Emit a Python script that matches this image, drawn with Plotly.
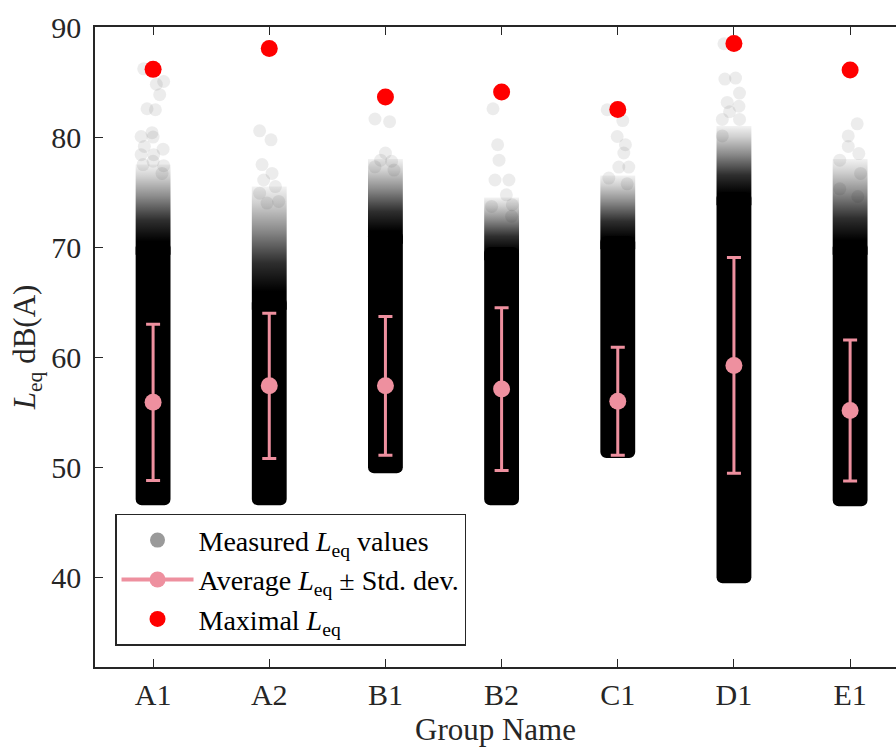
import plotly.graph_objects as go

groups = ["A1", "A2", "B1", "B2", "C1", "D1", "E1"]
mean_leq = [55.9, 57.4, 57.4, 57.1, 56.0, 59.25, 55.15]
std_leq = [7.1, 6.6, 6.3, 7.4, 4.9, 9.8, 6.4]
max_leq = [86.15, 88.05, 83.65, 84.1, 82.5, 88.5, 86.1]
min_leq = [47.1, 47.1, 50.0, 47.1, 51.4, 40.0, 47.0]
# level below which measured points merge into a solid band, and where the cloud thins out
dense_top = [70.5, 65.5, 71.5, 70.0, 71.0, 75.0, 70.5]
cloud_top = [77.5, 75.5, 78.0, 74.5, 76.5, 81.0, 78.0]

# individually visible (sparse) measured values above the dense cloud: value, jitter offset
sparse_vals = {
    "A1": [86.2, 85.05, 84.8, 83.85, 82.57, 82.48, 80.05, 80.4, 80.0, 78.9, 79.15, 78.4, 78.4, 77.4, 77.5, 76.7, 77.8],
    "A2": [80.57, 79.75, 77.5, 76.7, 76.1, 75.5, 74.9, 74.15, 74.0],
    "B1": [81.64, 81.4, 78.55, 77.8, 77.3, 77.9, 77.0],
    "B2": [82.57, 79.3, 77.9, 76.1, 76.1, 74.75, 73.85, 73.7, 72.8],
    "C1": [82.48, 81.5, 80.05, 79.3, 78.55, 77.27, 77.27, 76.27, 75.75],
    "D1": [88.48, 85.27, 85.36, 84.0, 83.15, 82.8, 81.6, 81.6, 82.3, 80.1],
    "E1": [81.2, 80.1, 79.15, 78.5, 77.9, 76.7, 75.3, 74.6],
}
sparse_jitter = {
    "A1": [-0.081, 0.091, 0.028, 0.057, -0.052, 0.02, -0.103, -0.009, 0.0, 0.086, -0.075, -0.103, 0.005, 0.091, -0.086, 0.077, 0.0],
    "A2": [-0.083, 0.015, -0.062, 0.024, -0.048, 0.053, -0.083, 0.081, -0.019],
    "B1": [-0.09, 0.036, 0.0, 0.053, -0.09, -0.041, 0.074],
    "B2": [-0.074, -0.034, -0.022, -0.057, 0.063, 0.041, 0.092, -0.086, 0.086],
    "C1": [-0.091, 0.043, -0.005, 0.066, 0.052, 0.095, 0.009, -0.077, 0.081],
    "D1": [-0.086, -0.078, 0.014, 0.048, -0.058, 0.043, -0.10, 0.048, -0.038, -0.10],
    "E1": [0.061, -0.016, -0.016, 0.075, -0.089, 0.09, -0.089, 0.066],
}

PINK = "#EE909F"
FONT = "Liberation Serif"
INK = "#262626"
half_w = 0.15
xpos = list(range(1, len(groups) + 1))
y_lo, y_hi = 31.85, 90.0
marker_r = 0.55  # radius of a point in dB units at this scale

fig = go.Figure()

# dense part of the measured cloud: solid band with rounded bottom
fig.add_trace(go.Bar(
    x=xpos,
    base=dense_top,
    y=[(m - marker_r) - d for m, d in zip(min_leq, dense_top)],
    width=2 * half_w,
    marker=dict(color="black", line=dict(width=0), cornerradius=6),
    showlegend=False, hoverinfo="skip",
))

# thinning part of the cloud: vertical fading fill (overlaps the band top)
for xc, d, c in zip(xpos, dense_top, cloud_top):
    lo = d - 1.2
    fig.add_trace(go.Scatter(
        x=[xc - half_w, xc + half_w, xc + half_w, xc - half_w, xc - half_w],
        y=[lo, lo, c, c, lo],
        mode="lines", line=dict(width=0), fill="toself",
        fillgradient=dict(type="vertical", colorscale=[
            [0.0, "rgba(0,0,0,1)"], [0.15, "rgba(0,0,0,1)"], [0.38, "rgba(0,0,0,0.82)"],
            [0.65, "rgba(0,0,0,0.45)"], [0.87, "rgba(0,0,0,0.18)"], [1.0, "rgba(0,0,0,0.05)"]]),
        showlegend=False, hoverinfo="skip",
    ))

# sparse individual points
sx, sy = [], []
for xc, g in zip(xpos, groups):
    for v, j in zip(sparse_vals[g], sparse_jitter[g]):
        sx.append(xc + j)
        sy.append(v)
fig.add_trace(go.Scatter(
    x=sx, y=sy, mode="markers",
    marker=dict(size=13, color="rgba(0,0,0,0.075)", line=dict(width=0)),
    showlegend=False, hoverinfo="skip",
))

# legend entries
fig.add_trace(go.Scatter(
    x=[None], y=[None], mode="markers",
    marker=dict(size=15, color="#9a9a9a"),
    name="Measured <i>L</i><sub>eq</sub> values",
))
fig.add_trace(go.Scatter(
    x=xpos, y=mean_leq, mode="markers",
    marker=dict(size=17, color=PINK),
    error_y=dict(type="data", array=std_leq, visible=True, color=PINK, thickness=3, width=7),
    showlegend=False,
))
fig.add_trace(go.Scatter(
    x=[None], y=[None], mode="lines+markers",
    line=dict(color=PINK, width=4), marker=dict(size=16, color=PINK),
    name="Average <i>L</i><sub>eq</sub> ± Std. dev.",
))
fig.add_trace(go.Scatter(
    x=xpos, y=max_leq, mode="markers",
    marker=dict(size=17, color="#FF0000"),
    name="Maximal <i>L</i><sub>eq</sub>",
))

fig.update_layout(
    width=896, height=747,
    margin=dict(l=95, r=0, t=27, b=80),
    plot_bgcolor="white", paper_bgcolor="white",
    font=dict(family=FONT, size=30, color=INK),
    barmode="overlay",
    showlegend=True,
    legend=dict(
        x=0.025, y=0.033, xanchor="left", yanchor="bottom",
        bgcolor="white", bordercolor=INK, borderwidth=1.5,
        font=dict(family=FONT, size=28, color="black"),
        itemwidth=72, tracegroupgap=0,
    ),
    xaxis=dict(
        range=[0.5, 7.395], tickmode="array", tickvals=xpos, ticktext=groups,
        ticks="inside", ticklen=8, tickwidth=1.2, tickcolor=INK,
        showline=True, linecolor=INK, linewidth=1.5, mirror="ticks",
        showgrid=False, zeroline=False, automargin=False,
        tickfont=dict(size=30), ticklabelstandoff=0,
        title=dict(text="Group Name", font=dict(size=31), standoff=18),
    ),
    yaxis=dict(
        range=[y_lo, y_hi], tickmode="array", tickvals=[40, 50, 60, 70, 80, 90],
        ticks="inside", ticklen=8, tickwidth=1.2, tickcolor=INK,
        showline=True, linecolor=INK, linewidth=1.5, mirror=False,
        showgrid=False, zeroline=False, automargin=False,
        tickfont=dict(size=30), ticklabelstandoff=6,
        title=dict(text="<i>L</i><sub>eq</sub> dB(A)", font=dict(size=31), standoff=6),
    ),
)

fig.write_html(
    "out.html",
    config={"displayModeBar": False},
    post_script="document.body.style.margin='0';document.body.style.overflow='hidden';",
)
